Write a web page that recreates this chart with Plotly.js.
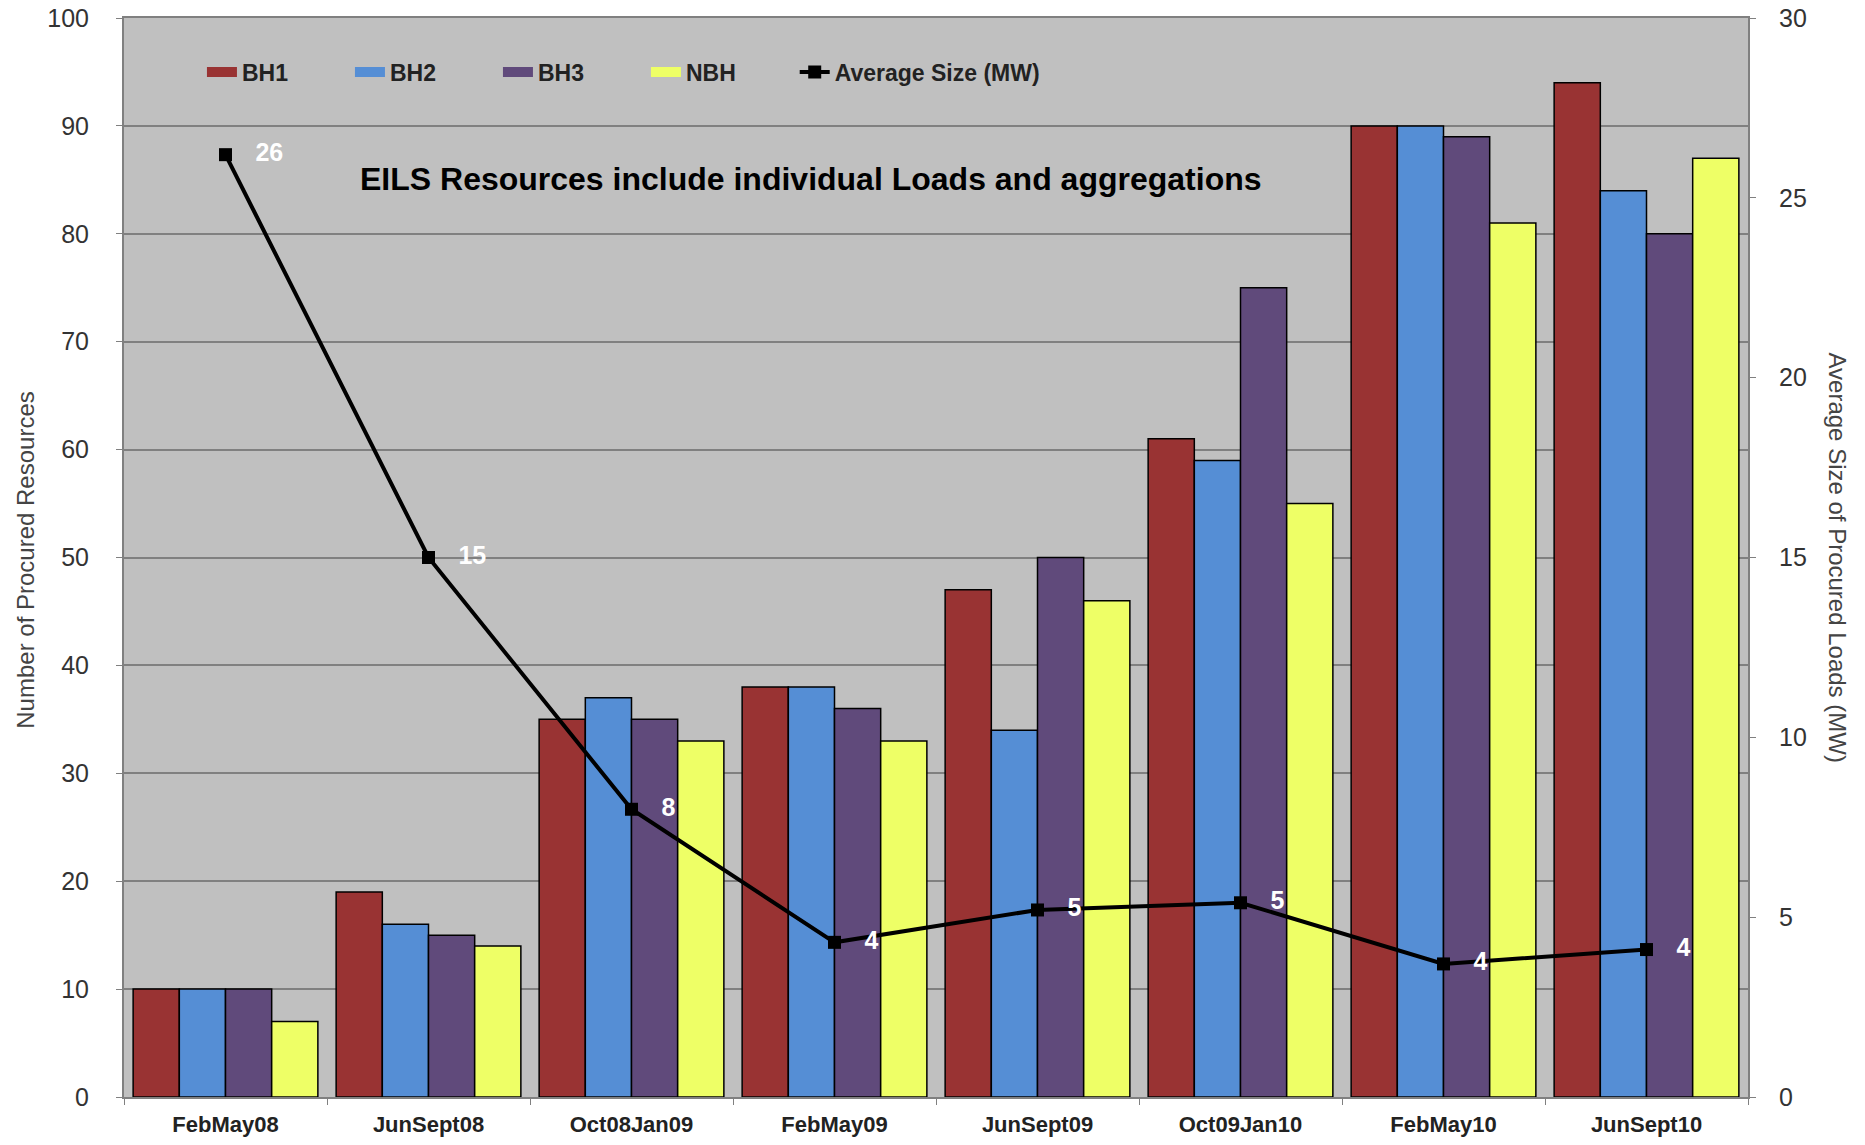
<!DOCTYPE html>
<html>
<head>
<meta charset="utf-8">
<script src="https://cdn.plot.ly/plotly-3.0.1.min.js"></script>
<style>
html,body{margin:0;padding:0;background:#fff;}
#chart{width:1865px;height:1145px;}
</style>
</head>
<body>
<div id="chart"></div>
<script>
const categories = ["FebMay08","JunSept08","Oct08Jan09","FebMay09","JunSept09","Oct09Jan10","FebMay10","JunSept10"];
const seriesNames = ["BH1", "BH2", "BH3", "NBH"];
const bh1 = [10, 19, 35, 38, 47, 61, 90, 94];
const bh2 = [10, 16, 37, 38, 34, 59, 90, 84];
const bh3 = [10, 15, 35, 36, 50, 75, 89, 80];
const nbh = [7, 14, 33, 33, 46, 55, 81, 87];
const avgSize = [26.2, 15.0, 8.0, 4.3, 5.2, 5.4, 3.7, 4.1];
const avgLabels = ["26", "15", "8", "4", "5", "5", "4", "4"];

const FONT = "Liberation Sans, Arial, sans-serif";
const colors = ['#993333', '#558ed5', '#604a7b', '#eeff66'];
const seriesValues = [bh1, bh2, bh3, nbh];

const traces = [];
seriesNames.forEach((name, i) => {
  traces.push({
    type: 'bar', name: name, x: categories, y: seriesValues[i],
    legendgroup: name, showlegend: false,
    marker: {color: colors[i], line: {color: '#000000', width: 1.5}}
  });
});
// legend entries drawn as wide bars (no data)
seriesNames.forEach((name, i) => {
  traces.push({
    type: 'scatter', mode: 'lines', name: name, x: [null], y: [null],
    legendgroup: name, legend: 'legend',
    line: {color: colors[i], width: 10}, hoverinfo: 'skip'
  });
});
traces.push({
  type: 'scatter', mode: 'lines+markers+text', name: 'Average Size (MW)',
  x: categories, y: avgSize, yaxis: 'y2', legend: 'legend2',
  text: avgLabels.map(t => '\u00a0\u00a0\u00a0' + t),
  textposition: 'middle right',
  textfont: {family: FONT, size: 25, color: '#ffffff', weight: 'bold'},
  line: {color: '#000000', width: 4},
  marker: {symbol: 'square', size: 13, color: '#000000'}
});

const legendBase = {
  orientation: 'h', yanchor: 'middle', xanchor: 'left',
  bgcolor: 'rgba(0,0,0,0)',
  font: {family: FONT, size: 23, color: '#222222', weight: 'bold'}
};

const layout = {
  width: 1865, height: 1145,
  paper_bgcolor: '#ffffff',
  plot_bgcolor: '#c0c0c0',
  margin: {l: 124, r: 117, t: 18, b: 48},
  font: {family: FONT, color: '#333333'},
  barmode: 'group',
  bargap: 0.09,
  bargroupgap: 0,
  showlegend: true,
  legend: Object.assign({}, legendBase, {
    x: 0.048, y: 0.950, entrywidth: 103, entrywidthmode: 'pixels', traceorder: 'normal'
  }),
  legend2: Object.assign({}, legendBase, {x: 0.413, y: 0.950}),
  xaxis: {
    type: 'category',
    tickson: 'boundaries', ticks: 'outside', ticklen: 6, tickcolor: '#808080',
    showline: true, linecolor: '#808080', linewidth: 2, mirror: true,
    tickfont: {family: FONT, size: 22, color: '#222222', weight: 'bold'},
    ticklabelstandoff: 7,
    showgrid: false
  },
  yaxis: {
    range: [0, 100], dtick: 10, tick0: 0,
    ticks: 'outside', ticklen: 6, tickcolor: '#808080',
    showline: true, linecolor: '#808080', linewidth: 2,
    gridcolor: '#808080', gridwidth: 2,
    tickfont: {family: FONT, size: 25, color: '#333333'},
    ticklabelstandoff: 22,
    zeroline: false
  },
  yaxis2: {
    range: [0, 30], dtick: 5, tick0: 0, overlaying: 'y', side: 'right',
    ticks: 'outside', ticklen: 6, tickcolor: '#808080',
    showline: true, linecolor: '#808080', linewidth: 2,
    showgrid: false, zeroline: false,
    tickfont: {family: FONT, size: 25, color: '#333333'},
    ticklabelstandoff: 18
  },
  annotations: [
    {
      text: 'EILS Resources include individual Loads and aggregations',
      xref: 'paper', yref: 'paper', x: 0.423, y: 0.851, xanchor: 'center', yanchor: 'middle',
      showarrow: false, font: {family: FONT, size: 32, color: '#000000', weight: 'bold'}
    },
    {
      text: 'Number of Procured Resources',
      xref: 'paper', yref: 'paper', x: 0, xshift: -98, y: 0.497, xanchor: 'center', yanchor: 'middle',
      textangle: -90, showarrow: false, font: {family: FONT, size: 24, color: '#444444'}
    },
    {
      text: 'Average Size of Procured Loads (MW)',
      xref: 'paper', yref: 'paper', x: 1.0, xshift: 89, y: 0.5, xanchor: 'center', yanchor: 'middle',
      textangle: 90, showarrow: false, font: {family: FONT, size: 24, color: '#444444'}
    }
  ]
};

Plotly.newPlot('chart', traces, layout, {displayModeBar: false});
</script>
</body>
</html>
